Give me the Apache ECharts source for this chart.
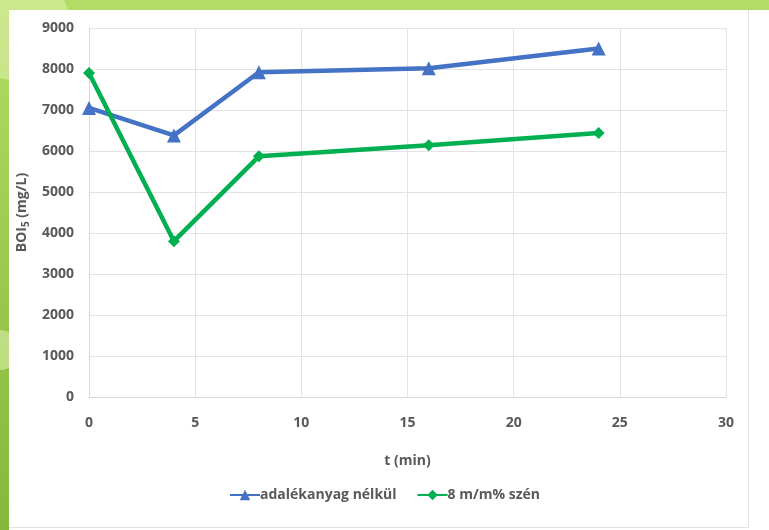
<!DOCTYPE html>
<html><head><meta charset="utf-8">
<script src="https://cdn.jsdelivr.net/npm/echarts@6/dist/echarts.min.js"></script>
<style>
html,body{margin:0;padding:0;width:769px;height:530px;overflow:hidden;}
body{background:linear-gradient(180deg,#b3dc64 0%,#9fce52 40%,#86b63c 100%);position:relative;}
#blob{position:absolute;left:-40px;top:-30px;width:110px;height:110px;border-radius:50%;background:rgba(220,240,170,0.6);}
#blob2{position:absolute;left:-20px;top:330px;width:40px;height:40px;border-radius:50%;background:rgba(220,240,170,0.6);}
#panel{position:absolute;left:9px;top:10px;width:760px;height:520px;background:#fff;}
#edge{position:absolute;left:748px;top:10px;width:1px;height:518px;background:#e3e3e3;}
#edgeb{position:absolute;left:9px;top:527px;width:740px;height:1px;background:#e3e3e3;}
#chart{position:absolute;left:0;top:0;width:769px;height:530px;}
</style></head>
<body>
<div id="blob"></div><div id="blob2"></div>
<div id="panel"></div><div id="edge"></div><div id="edgeb"></div>
<div id="chart"></div>
<script>
var tValues = [0, 4, 8, 16, 24];
var seriesNames = ['adalékanyag nélkül', '8 m/m% szén'];
var blueValues = [7050, 6380, 7920, 8020, 8500];
var greenValues = [7900, 3800, 5870, 6140, 6440];
var xTicks = [0, 5, 10, 15, 20, 25, 30];
var yTicks = [0, 1000, 2000, 3000, 4000, 5000, 6000, 7000, 8000, 9000];

function pairs(xs, ys){ return xs.map(function(x,i){return [x, ys[i]];}); }

var font = '"Open Sans", Lato, sans-serif';
var txt = '#595959';
var fs = 14;
var chart = echarts.init(document.getElementById('chart'));
chart.setOption({
  backgroundColor: 'transparent',
  animation: false,
  textStyle: {fontFamily: font},
  grid: {left: 89, right: 43, top: 28, bottom: 133, containLabel: false},
  legend: {
    bottom: 23, left: 'center',
    itemWidth: 30, itemHeight: 13, itemGap: 20,
    textStyle: {color: txt, fontSize: fs, fontWeight: 'bold', fontFamily: font, padding: [0,0,0,-5]},
    data: seriesNames
  },
  xAxis: {
    type: 'value', min: 0, max: 30, interval: 5,
    name: 't (min)', nameLocation: 'middle', nameGap: 57,
    nameTextStyle: {color: txt, fontSize: fs, fontWeight: 'bold', fontFamily: font},
    axisLine: {show: true, lineStyle: {color: '#d9d9d9'}},
    axisTick: {show: false},
    axisLabel: {color: txt, fontSize: fs, fontWeight: 'bold', margin: 19, fontFamily: font,
      formatter: function(v){ return xTicks.indexOf(v) >= 0 ? String(v) : ''; }},
    splitLine: {show: true, lineStyle: {color: '#e3e3e3'}}
  },
  yAxis: {
    type: 'value', min: 0, max: 9000, interval: 1000,
    name: '{a|BOI}{s|5}{a| (mg/L)}', nameLocation: 'middle', nameGap: 58, nameRotate: 90,
    nameTextStyle: {color: txt, fontSize: fs, fontWeight: 'bold',
      rich: {a: {color: txt, fontSize: fs, fontWeight: 'bold', fontFamily: font},
             s: {color: txt, fontSize: 10, fontWeight: 'bold', fontFamily: font, verticalAlign: 'bottom', padding: [7,0,0,0]}}},
    axisLine: {show: true, lineStyle: {color: '#d9d9d9'}},
    axisTick: {show: false},
    axisLabel: {color: txt, fontSize: fs, fontWeight: 'bold', margin: 15, fontFamily: font,
      formatter: function(v){ return yTicks.indexOf(v) >= 0 ? String(v) : ''; }},
    splitLine: {show: true, lineStyle: {color: '#e3e3e3'}}
  },
  series: [
    {name: seriesNames[0], type: 'line', data: pairs(tValues, blueValues),
     symbol: 'triangle', symbolSize: 14,
     lineStyle: {color: '#4472C4', width: 4.5},
     itemStyle: {color: '#4472C4'}},
    {name: seriesNames[1], type: 'line', data: pairs(tValues, greenValues),
     symbol: 'diamond', symbolSize: 12,
     lineStyle: {color: '#00B050', width: 4.5},
     itemStyle: {color: '#00B050'}}
  ]
});
</script>
</body></html>
